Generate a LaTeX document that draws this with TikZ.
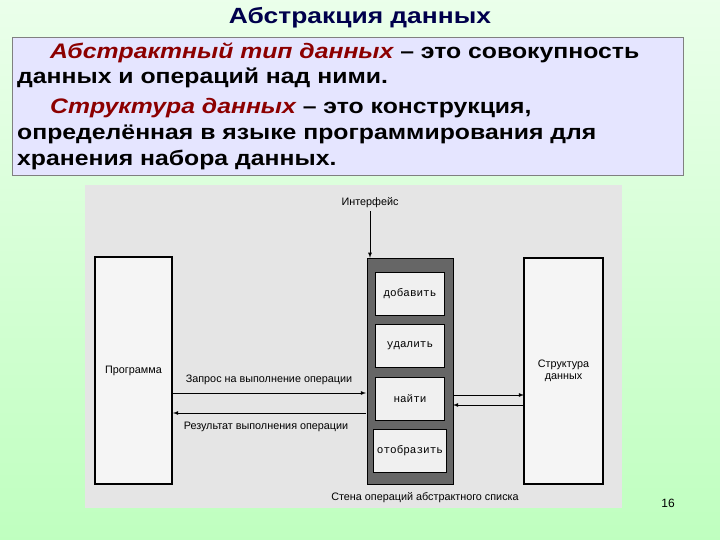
\documentclass[tikz,border=0pt]{standalone}
\usepackage{fontspec}
\setmainfont{Liberation Sans}
\setmonofont{Liberation Mono}
\newfontfamily\widefont[FakeStretch=1.18]{Liberation Sans}
\newfontfamily\titlefont[FakeStretch=1.2]{Liberation Sans}
\begin{document}
\begin{tikzpicture}[x=1pt,y=-1pt,
 line/.style={anchor=west,inner sep=0pt,font=\widefont\fontsize{21}{24}\selectfont\bfseries},
 lab/.style={font=\fontsize{10.8}{12}\selectfont,inner sep=0pt},
 op/.style={draw=black,fill=gray!12,minimum width=69pt,minimum height=43pt,font=\ttfamily\fontsize{11}{13}\selectfont},
 side/.style={draw=black,line width=1.2pt,fill=gray!8},
 arr/.style={-latex,line width=0.8pt}]
\useasboundingbox (0,0) rectangle (720,540);
\shade[top color=green!8,bottom color=green!25] (0,0) rectangle (720,540);
\node[font=\titlefont\fontsize{22}{24}\selectfont\bfseries,text=blue!30!black] (title) at (360,18) {Абстракция данных};
\draw[fill=blue!10,draw=gray] (12,37) rectangle (683,175);
\node[line] (l1) at (50,53) {\textcolor{red!55!black}{\itshape Абстрактный тип данных} – это совокупность};
\node[line] (l2) at (17,78) {данных и операций над ними.};
\node[line] (l3) at (50,108) {\textcolor{red!55!black}{\itshape Структура данных} – это конструкция,};
\node[line] (l4) at (17,134) {определённая в языке программирования для};
\node[line] (l5) at (17,160) {хранения набора данных.};
\fill[gray!20] (85,185) rectangle (622,508);
\node[side,minimum width=77pt,minimum height=227pt] (prog) at (133.5,370.5) {};
\node[lab] at (133.5,371) {Программа};
\node[side,minimum width=79pt,minimum height=226pt] (struct) at (563.5,371) {};
\node[lab,align=center] at (563.5,371) {Структура\\данных};
\node[fill=gray!80!black,draw=black,minimum width=86pt,minimum height=226pt] (wall) at (410,371) {};
\node[op] (o1) at (410,293.5) {добавить};
\node[op] (o2) at (410,345.5) {удалить};
\node[op] (o3) at (410,398.5) {найти};
\node[op] (o4) at (410,451) {отобразить};
\node[lab] (intf) at (370,203) {Интерфейс};
\draw[arr] (intf.south) ++(0,3) -- (wall.north -| intf.south) ;
\coordinate (a1) at (172,393); \coordinate (a2) at (366,393);
\draw[arr] (a1) -- (a2);
\coordinate (b1) at (366,413); \coordinate (b2) at (173,413);
\draw[arr] (b1) -- (b2);
\node[lab] at (269,380) {Запрос на выполнение операции};
\node[lab] at (266,427) {Результат выполнения операции};
\coordinate (c1) at (453,395); \coordinate (c2) at (524,395);
\draw[arr] (c1) -- (c2);
\coordinate (d1) at (524,405); \coordinate (d2) at (453,405);
\draw[arr] (d1) -- (d2);
\node[lab] (wl) at (425,498) {Стена операций абстрактного списка};
\node[font=\fontsize{12}{14}\selectfont] (num) at (668,503) {16};
\end{tikzpicture}
\end{document}
